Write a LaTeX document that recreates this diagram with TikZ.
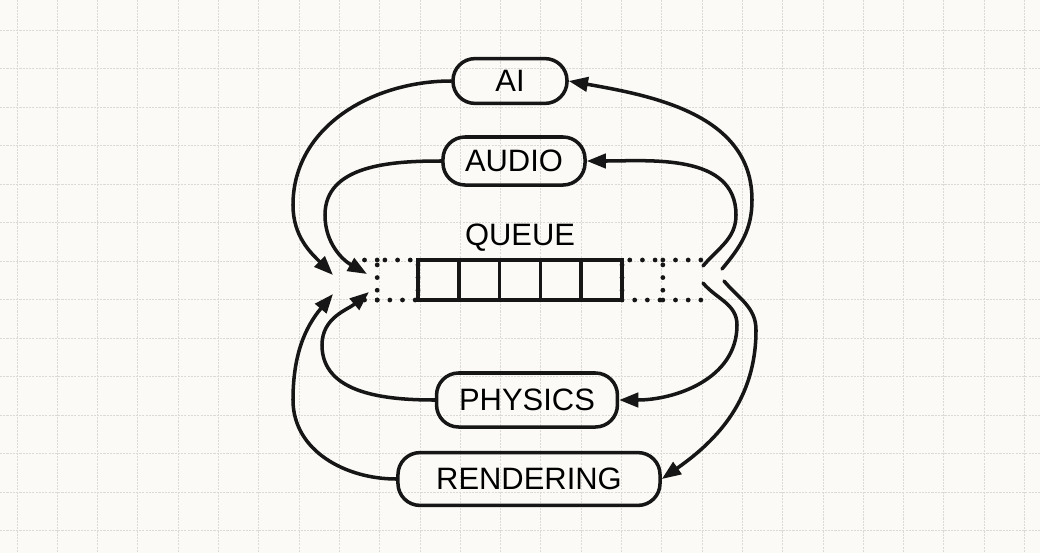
\documentclass[tikz,border=0pt]{standalone}
\usepackage{fontspec}
\setmainfont{Liberation Sans}
\usetikzlibrary{arrows.meta, positioning}
\definecolor{paper}{RGB}{251, 250, 246}
\definecolor{gridgray}{RGB}{218, 218, 214}
\definecolor{ink}{RGB}{22, 22, 22}

\tikzset{
  task/.style={draw=ink, line width=2.5pt, rounded corners=0.55cm, inner sep=0pt,
    font=\fontsize{22}{24}\selectfont},
  lbl/.style={inner sep=0pt, font=\fontsize{22}{24}\selectfont},
  cell/.style={draw=ink, line width=2.5pt, minimum width=1.02cm, minimum height=1cm,
    inner sep=0pt, outer sep=0pt},
  dcell/.style={cell, line width=3.4pt, line cap=round, dash pattern=on 0pt off 9pt},
  dots/.style={draw=ink, line width=3.4pt, line cap=round, dash pattern=on 0pt off 9pt},
  flow/.style={draw=ink, line width=2.5pt, line cap=round,
    -{Triangle[length=0.48cm, width=0.36cm]}},
  gridline/.style={gridgray, line width=0.6pt, dash pattern=on 1.5pt off 0.8pt},
}

\begin{document}
\begin{tikzpicture}[x=0.025cm, y=0.025cm, node distance=0pt]
	% Paper
	\fill[paper] (0,0) rectangle (1040,-553);
	\useasboundingbox (0,0) rectangle (1040,-553);
	\foreach \gx in {0,...,25}
	{
		\draw[gridline] ({17+40.3*\gx},0) -- ({17+40.3*\gx},-553);
	}
	\foreach \gy in {-1,...,13}
	{
		\draw[gridline] (0,{-30-38.5*\gy}) -- (1040,{-30-38.5*\gy});
	}
	
	% Queue
	\node[cell] (qc1) at (438.4,-280) {};
	\foreach \i/\j in {2/1,3/2,4/3,5/4}
	{
		\node[cell, right=of qc\j] (qc\i) {};
	}
	\node[dcell, left=of qc1] (qd0) {};
	\node[dcell, right=of qc5] (qd6) {};
	\draw[dots] (qd0.north west) -- ++(-13,0);
	\draw[dots] (qd0.south west) -- ++(-13,0);
	\draw[dots] (qd6.north east) -- ++(38,0);
	\draw[dots] (qd6.south east) -- ++(40,0);
	\node[lbl, above=0.2cm of qc3] (queue) {QUEUE};
	
	% Tasks
	\node[task, minimum width=2.85cm, minimum height=1.12cm] (ai) at (510,-81) {AI};
	\node[task, minimum width=3.55cm, minimum height=1.2cm] (audio) at (514,-161) {AUDIO};
	\node[task, minimum width=4.52cm, minimum height=1.35cm] (physics) at (527,-400) {PHYSICS};
	\node[task, minimum width=6.55cm, minimum height=1.32cm] (rendering) at (529,-479) {RENDERING};
	
	% Ends at the queue
	\coordinate (oAI) at (722,-269);
	\coordinate (oAU) at (703,-266);
	\coordinate (oPH) at (703,-283);
	\coordinate (oRE) at (724,-281);
	\coordinate (inAI) at (333,-275);
	\coordinate (inAU) at (367,-274);
	\coordinate (inPH) at (369,-292);
	\coordinate (inRE) at (333,-294);
	
	% Out of the queue
	\draw[flow] (oAI) to[out=50,in=-90] (752,-200) to[out=90,in=-10] (ai.east);
	\draw[flow] (oAU) to[out=50,in=-90] (736,-215) to[out=90,in=0] (audio.east);
	\draw[flow] (oPH) to[out=-50,in=90] (737,-325) to[out=-90,in=0] (physics.east);
	\draw[flow] (oRE) to[out=-50,in=90] (756,-330) to[out=-90,in=35] (rendering.east);
	
	% Back into the queue
	\draw[flow] (ai.west) to[out=180,in=90] (293,-205) to[out=-90,in=135] (inAI);
	\draw[flow] (audio.west) to[out=180,in=90] (325,-215) to[out=-90,in=150] (inAU);
	\draw[flow] (physics.west) to[out=180,in=-90] (322,-345) to[out=90,in=-140] (inPH);
	\draw[flow] (rendering.west) to[out=180,in=-90] (293,-400) to[out=90,in=-130] (inRE);
	
\end{tikzpicture}
\end{document}
